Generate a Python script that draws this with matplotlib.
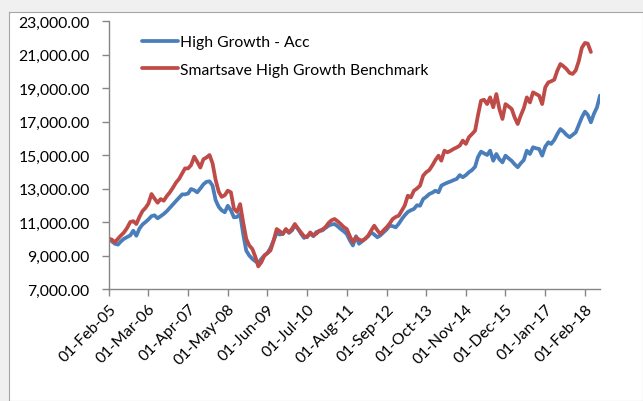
import matplotlib
matplotlib.use("Agg")
import matplotlib.pyplot as plt
import pandas as pd

start_date = "2005-02-01"

high_growth_acc = [
    10000, 9850, 9700, 9650, 9850, 10000, 10100, 10200, 10480, 10180,
    10600, 10850, 11000, 11150, 11350, 11400, 11220, 11350, 11480, 11650,
    11850, 12050, 12250, 12450, 12650, 12650, 12700, 12970, 12900, 12770,
    13000, 13250, 13400, 13430, 13170, 12300, 11900, 11700, 11580, 11970,
    11700, 11280, 11300, 11480, 10300, 9290, 9000, 8800, 8650, 8550,
    8800, 9000, 9150, 9450, 9900, 10350, 10250, 10300, 10550, 10350,
    10500, 10800, 10600, 10300, 10050, 10150, 10300, 10150, 10400, 10450,
    10500, 10650, 10780, 10850, 10880, 10750, 10580, 10450, 10280, 9900,
    9600, 10150, 9700, 9850, 10000, 10150, 10380, 10250, 10090, 10200,
    10380, 10550, 10780, 10750, 10680, 10900, 11180, 11400, 11600, 11700,
    11780, 12000, 11970, 12370, 12500, 12670, 12750, 12870, 12770, 13170,
    13270, 13350, 13420, 13500, 13570, 13800, 13670, 13800, 13970, 14100,
    14300, 14870, 15200, 15100, 15000, 15260, 14660, 15060, 14750, 14560,
    14960, 14800, 14650, 14450, 14270, 14500, 14700, 15260, 15060, 15460,
    15400, 15360, 14960, 15500, 15760, 15660, 15900, 16250, 16550, 16400,
    16200, 16060, 16200, 16350, 16800, 17250, 17590, 17400, 16950, 17450,
    17850, 18550,
]

benchmark = [
    10000, 9950, 9790, 10000, 10200, 10380, 10650, 11000, 11050, 10880,
    11300, 11650, 11850, 12100, 12670, 12400, 12150, 12370, 12270, 12550,
    12770, 13050, 13350, 13570, 13900, 14200, 14200, 14400, 14900, 14600,
    14250, 14750, 14850, 15000, 14500, 13500, 12800, 12500, 12600, 12870,
    12770, 11800, 11600, 12070, 11000, 10000, 9600, 9390, 8900, 8350,
    8600, 8990, 9150, 9300, 9880, 10580, 10450, 10280, 10580, 10380,
    10600, 10880, 10600, 10380, 10150, 10090, 10380, 10200, 10300, 10480,
    10550, 10700, 10950, 11100, 11180, 11050, 10880, 10700, 10580, 10150,
    9790, 10090, 9950, 9880, 10000, 10180, 10500, 10780, 10500, 10280,
    10500, 10680, 10900, 11180, 11300, 11380, 11700, 11980, 12570, 12470,
    12870, 13000, 13170, 13770, 13970, 14100, 14370, 14700, 14960, 14660,
    15260, 15160, 15250, 15360, 15450, 15560, 15860, 15660, 16060, 16250,
    16450, 17350, 18240, 18300, 18040, 18440, 17850, 18640, 17750, 17150,
    18040, 17900, 17750, 17250, 16850, 17350, 17800, 18440, 18140, 18740,
    18640, 18540, 18040, 19040, 19340, 19400, 19500, 20030, 20430, 20300,
    20130, 19900, 19840, 20050, 20600, 21400, 21690, 21650, 21150,
]

series_labels = ["High Growth - Acc", "Smartsave High Growth Benchmark"]
y_ticks = [7000, 9000, 11000, 13000, 15000, 17000, 19000, 21000, 23000]
tick_step_months = 13

dates_a = pd.date_range(start_date, periods=len(high_growth_acc), freq="MS")
dates_b = pd.date_range(start_date, periods=len(benchmark), freq="MS")
tick_dates = dates_a[::tick_step_months]

W, H = 643, 402
fig = plt.figure(figsize=(W / 100, H / 100), dpi=100)
fig.patch.set_facecolor("#f0f0f0")
# chart area background
bg = fig.add_axes([9 / W, 0, 1 - 9 / W, 1 - 13 / H], zorder=-5)
bg.set_xticks([]); bg.set_yticks([])
bg.set_facecolor("white")
for s in bg.spines.values():
    s.set_color("#a6a6a6"); s.set_linewidth(0.8)

ax = fig.add_axes([109 / W, 1 - 290 / H, (600 - 109) / W, (290 - 22) / H], zorder=1)
ax.set_facecolor("none")

font = "Lato"
fs = 11.3
ax.plot(dates_a, high_growth_acc, color="#4a7ebb", linewidth=2.7, label=series_labels[0],
        solid_joinstyle="round", solid_capstyle="round")
ax.plot(dates_b, benchmark, color="#be4b48", linewidth=2.7, label=series_labels[1],
        solid_joinstyle="round", solid_capstyle="round")

ax.set_xlim(dates_a[0], dates_a[-1])
ax.set_ylim(y_ticks[0], y_ticks[-1])
ax.set_yticks(y_ticks)
ax.set_yticklabels([f"{v:,.2f}" for v in y_ticks], fontfamily=font, fontsize=fs)
ax.set_xticks(tick_dates)
ax.set_xticklabels([d.strftime("%d-%b-%y") for d in tick_dates], rotation=45, ha="right",
                   rotation_mode="anchor", fontfamily=font, fontsize=fs)

for s in ["top", "right"]:
    ax.spines[s].set_visible(False)
for s in ["left", "bottom"]:
    ax.spines[s].set_color("#868686")
    ax.spines[s].set_linewidth(1.0)
ax.tick_params(axis="both", direction="out", length=5, width=1.0, color="#868686",
               labelcolor="black", pad=4)
ax.tick_params(axis="y", pad=9)

leg = ax.legend(loc="upper left", bbox_to_anchor=(0.038, 1.0), frameon=False,
                handlelength=2.3, handletextpad=0.15, labelspacing=0.88,
                prop={"family": font, "size": fs})

fig.savefig("out.png", dpi=100, facecolor=fig.get_facecolor())
